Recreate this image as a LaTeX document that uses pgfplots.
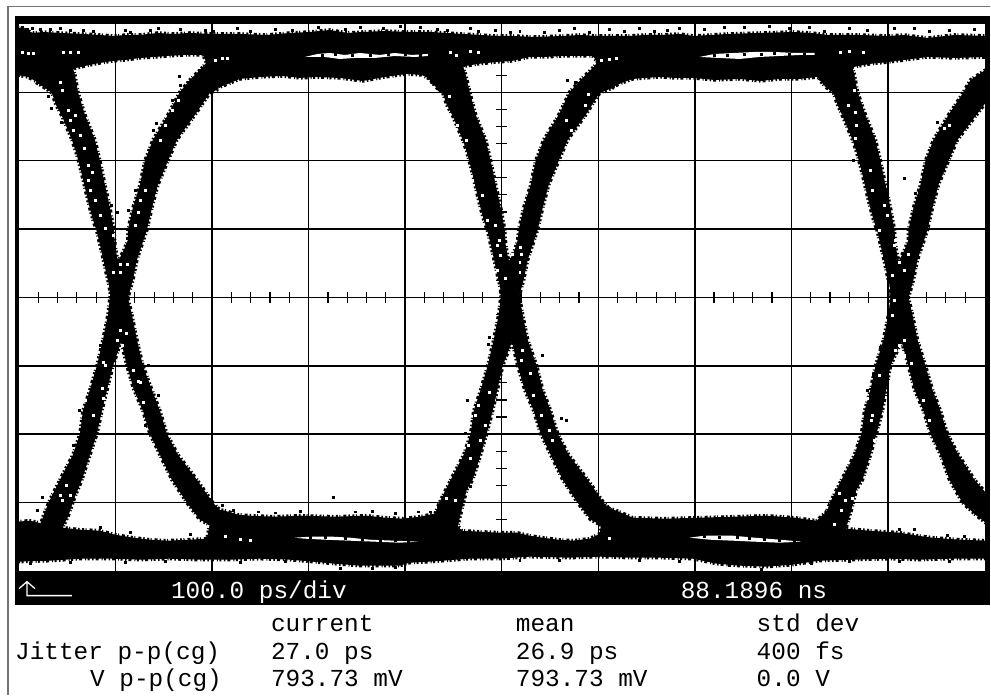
\documentclass[border=0pt]{standalone}
\usepackage{fontspec}
\setmainfont{Liberation Mono}
\usepackage{pgfplots}
\pgfplotsset{compat=1.18}
\pgfplotsset{
  % dashed outline gives the bands the rough edge of a persistence display
  band/.style={fill=black,draw=black,line width=3.5bp,dash pattern=on 2bp off 1.5bp on 1bp off 3bp on 3bp off 2bp on 1.5bp off 2.5bp,forget plot},
  gap/.style={fill=white,draw=none,forget plot},
  speckb/.style={only marks,mark=square*,mark size=1bp,mark options={black,draw=none,fill=black},forget plot},
  speckw/.style={only marks,mark=square*,mark size=1bp,mark options={white,draw=none,fill=white},forget plot},
}
% all coordinates are screen pixels: 96.6 px = 100 ps, 68.4 px = one vertical div
\newcommand{\scopetxt}[3]{\node[anchor=base west,inner sep=0pt,#3] at (#1) {\fontsize{24.4bp}{26bp}\selectfont #2};}
\begin{document}
\begin{tikzpicture}
\begin{scope}[shift={(-19bp,571bp)},x=1bp,y=-1bp]
  \fill[white] (0,0) rectangle (991,695);
  \draw[black!55,line width=1.2bp] (8,695) -- (8,6.5) -- (991,6.5);
  \fill[black] (15.5,16) rectangle (991,605);
  % arrow in the status bar
  \draw[white,line width=1.3bp] (19,589) -- (27,582) -- (35,589) (27,582) -- (27,596) -- (72,596);
  \scopetxt{171,599}{100.0 ps/div}{white}
  \scopetxt{681,599}{88.1896 ns}{white}
  \scopetxt{271,632}{current}{}
  \scopetxt{516,632}{mean}{}
  \scopetxt{757,632}{std dev}{}
  \scopetxt{15,660}{Jitter p-p(cg)}{}
  \scopetxt{271,660}{27.0 ps}{}
  \scopetxt{516,660}{26.9 ps}{}
  \scopetxt{757,660}{400 fs}{}
  \scopetxt{90,687}{V p-p(cg)}{}
  \scopetxt{271,687}{793.73 mV}{}
  \scopetxt{516,687}{793.73 mV}{}
  \scopetxt{757,687}{0.0 V}{}
\end{scope}
\path[use as bounding box] (-19bp,-124bp) rectangle (972bp,571bp);
\begin{axis}[
    at={(0,0)}, anchor=south west,
    scale only axis, width=966.6bp, height=547bp,
    xmin=19, xmax=985.6, ymin=24, ymax=571, y dir=reverse,
    xtick={115.6,212.2,308.8,405.4,502,598.6,695.2,791.8,888.4},
    ytick={92.4,160.8,229.2,297.6,366,434.4,502.8},
    xticklabel=\empty, yticklabel=\empty,
    major tick length=0pt,
    grid=major,
    grid style={black,line width=1.5bp},
    axis line style={draw=none},
    axis background/.style={fill=white},
]
% small division ticks on the centre lines
\addplot[only marks,mark=|,mark size=5.5bp,mark options={black,line width=1.2bp},forget plot] coordinates {
(38.3,297.6)(57.6,297.6)(76.9,297.6)(96.3,297.6)(134.9,297.6)(154.2,297.6)(173.6,297.6)(192.9,297.6)
(231.5,297.6)(250.8,297.6)(270.2,297.6)(289.5,297.6)(328.1,297.6)(347.4,297.6)(366.8,297.6)(386.1,297.6)
(424.7,297.6)(444,297.6)(463.4,297.6)(482.7,297.6)(521.3,297.6)(540.6,297.6)(560,297.6)(579.3,297.6)
(617.9,297.6)(637.2,297.6)(656.6,297.6)(675.9,297.6)(714.5,297.6)(733.8,297.6)(753.2,297.6)(772.5,297.6)
(811.1,297.6)(830.4,297.6)(849.8,297.6)(869.1,297.6)(907.7,297.6)(927,297.6)(946.4,297.6)(965.7,297.6)};
\addplot[only marks,mark=-,mark size=5.5bp,mark options={black,line width=1.2bp},forget plot] coordinates {
(502,75.3)(502,109.5)(502,126.6)(502,143.7)(502,177.9)(502,195)(502,212.1)(502,246.3)(502,263.4)(502,280.5)
(502,314.7)(502,331.8)(502,348.9)(502,383.1)(502,400.2)(502,417.3)(502,451.5)(502,468.6)(502,485.7)
(502,519.9)(502,537)(502,554.1)};
% upper rail with the overshoot shelves
\addplot[band] coordinates {
(17,27)(26,30)(33,33)(43,32)(60,33)(83,34)(100,35)(113,36)(127,35)(140,35)(158,33)(173,34)(190,33)(213,34)(240,34)
(267,35)(290,33)(310,32)(330,30)(348,33)(363,32)(385,31)(407,32)(430,32)(463,34)(480,35)(497,36)(513,36)(535,37)
(563,36)(580,35)(597,36)(630,36)(645,35)(661,35)(680,34)(694,36)(728,34)(760,33)(794,32)(812,33)(828,35)(860,35)
(888,36)(905,35)(928,38)(955,35)(988,36)
(988,57)(955,58)(928,57)(905,60)(889,62)(870,64)(849,68)(831,86)(818,77)(800,79)(780,79)(761,81)(740,79)(715,80)(694,78)
(675,78)(661,77)(645,78)(633,79)(622,83)(613,87)(597,61)(593,56)(563,56)(545,57)(530,57)(512,61)(497,62)(478,64)
(460,67)(440,90)(430,79)(422,75)(407,74)(385,77)(363,81)(340,78)(317,77)(300,78)(283,76)(260,77)(240,79)(228,84)(217,88)
(205,59)(203,55)(185,55)(167,56)(155,57)(140,58)(125,60)(113,61)(100,63)(85,66)(72,69)(50,91)(45,87)(37,82)(28,77)(17,75)};
% lower rail with the undershoot shelves
\addplot[band] coordinates {
(17,522)(30,521)(43,524)(63,528)(80,530)(100,531)(115,535)(133,538)(150,540)(167,541)(190,540)(207,539)(213,509)(225,511)
(238,515)(250,516)(275,517)(300,516)(335,517)(367,516)(385,518)(403,519)(420,517)(440,513)(458,526)(462,531)(480,532)
(500,533)(517,533)(530,536)(543,538)(558,540)(573,541)(590,539)(600,534)(604,507)(617,511)(633,518)(665,519)(700,518)
(735,517)(767,516)(795,518)(817,521)(828,511)(847,529)(870,531)(900,533)(918,536)(933,538)(960,540)(988,541)
(988,559)(950,559)(920,560)(890,559)(855,560)(820,561)(793,565)(767,567)(740,566)(717,564)(693,559)(660,558)(630,558)
(600,557)(570,558)(530,557)(500,559)(470,559)(430,562)(410,563)(400,566)(360,566)(335,564)(313,562)(290,560)(260,559)
(230,560)(200,560)(170,559)(140,560)(113,559)(80,559)(50,561)(17,562)};
% falling edges
\addplot[band] coordinates {
(32,50)(37,83)(45,88)(52,93)(56,105)(62,116)(67,128)(72,140)(76,152)(79,163)(82,175)(85,188)(89,205)(93,220)(97,232)(100,245)
(103,258)(106,272)(109,285)(111,298)(114,312)(118,330)(122,345)(127,366)(134,390)(143,411)(150,434)(160,455)(172,480)(187,503)
(200,520)(213,527)(230,545)(240,530)(213,503)(197,480)(178,455)(167,434)(160,411)(152,390)(143,366)(137,340)(132,315)(128,298)
(124,280)(118,262)(115,245)(114,230)(110,208)(105,185)(100,161)(95,140)(85,115)(78,92)(75,75)(72,65)(65,45)};
\addplot[band] coordinates {
(423,50)(430,80)(436,87)(443,93)(447,105)(453,116)(458,128)(463,140)(467,152)(470,163)(473,175)(476,188)(480,205)(484,220)(488,232)(491,245)
(494,258)(497,272)(500,285)(502,298)(505,312)(509,330)(513,345)(518,366)(525,390)(534,411)(541,434)(551,455)(563,480)(578,503)
(591,520)(604,527)(621,545)(631,530)(604,503)(588,480)(569,455)(558,434)(551,411)(543,390)(537,366)(528,340)(523,315)(520,298)
(515,280)(509,262)(506,245)(505,230)(501,208)(496,185)(491,161)(486,140)(476,115)(470,92)(466,75)(463,65)(456,45)};
\addplot[band] coordinates {
(813,50)(820,80)(826,87)(834,93)(838,105)(843,116)(848,128)(853,140)(857,152)(860,163)(863,175)(866,188)(870,205)(874,220)(878,232)(881,245)
(884,258)(887,272)(890,285)(892,298)(895,312)(899,330)(903,345)(909,366)(915,390)(924,411)(931,434)(941,455)(950,480)(963,503)
(976,515)(995,530)(995,503)(975,480)(959,455)(948,434)(941,411)(933,390)(926,366)(918,340)(913,315)(909,298)
(905,280)(899,262)(896,245)(895,230)(891,208)(886,185)(881,161)(876,140)(866,115)(858,92)(855,75)(852,65)(845,45)};
% rising edges
\addplot[band] coordinates {
(35,545)(38,535)(43,517)(50,500)(60,480)(73,455)(80,434)(83,411)(90,390)(97,366)(103,340)(108,315)(110,298)(112,280)(118,262)(124,250)
(128,240)(128,230)(133,208)(140,185)(145,161)(153,140)(168,115)(180,92)(190,80)(203,67)(210,58)(220,48)(232,56)(217,90)(210,93)
(195,115)(177,140)(168,161)(158,185)(152,208)(147,230)(142,245)(137,260)(133,280)(128,298)(122,315)(122,340)(113,366)(102,411)
(97,434)(90,455)(82,480)(75,497)(68,517)(63,527)(60,545)};
\addplot[band] coordinates {
(425,545)(428,535)(434,517)(441,500)(451,480)(464,455)(471,434)(474,411)(481,390)(488,366)(494,340)(499,315)(501,298)(503,280)(509,262)(515,250)
(518,240)(519,230)(524,208)(531,185)(536,161)(544,140)(559,115)(570,92)(581,80)(594,67)(601,58)(611,48)(623,56)(613,88)(600,93)
(586,115)(568,140)(559,161)(549,185)(543,208)(538,230)(533,245)(528,260)(524,280)(519,298)(513,315)(513,340)(503,366)(493,411)
(487,434)(481,455)(473,480)(467,490)(462,510)(458,527)(455,545)};
\addplot[band] coordinates {
(816,545)(819,535)(825,517)(832,500)(842,480)(855,455)(862,434)(865,411)(871,390)(876,366)(884,340)(889,315)(891,298)(893,280)(899,262)(905,250)
(909,240)(909,230)(914,208)(921,185)(926,161)(934,140)(949,115)(961,97)(971,80)(986,70)(995,60)(995,105)(986,103)
(977,115)(958,140)(949,161)(939,185)(933,208)(928,230)(923,245)(918,260)(914,280)(909,298)(903,315)(903,340)(891,366)(883,411)
(877,434)(871,455)(863,480)(857,490)(852,510)(847,527)(844,545)};
% white gaps between rail and shelf
\addplot[gap] coordinates {
(305,57)(318,54)(330,53)(345,55)(360,53)(380,55)(395,53)(412,55)(428,54)(428,56)(415,57)(395,56)(375,58)(355,58)(340,59)(325,57)};
\addplot[gap] coordinates {
(700,57)(715,54)(735,53)(755,52)(775,52)(795,53)(815,53)(815,55)(800,55)(780,56)(760,57)(740,59)(720,58)};
\addplot[gap] coordinates {
(295,538)(310,537)(333,537)(350,538)(370,540)(395,541)(418,542)(400,543)(375,542)(350,541)(325,540)(305,539)};
\addplot[gap] coordinates {
(690,538)(705,536)(733,536)(755,538)(780,540)(802,542)(780,543)(755,542)(733,541)(710,540)};
% stray dots, black ones outside the bands
\addplot[speckb] coordinates {
(22,27)(27,29)(32,28)(40,29)(50,29)(60,28)(70,30)(83,30)(93,31)(125,30)(130,32)(150,30)(158,28)(180,29)(205,30)(213,31)
(237,28)(250,31)(275,29)(292,30)(318,27)(345,29)(360,27)(383,28)(400,26)(420,27)(437,29)(447,30)(470,28)(478,31)(495,30)
(510,32)(520,31)(545,32)(560,30)(575,28)(590,32)(610,29)(625,31)(640,28)(655,31)(668,30)(680,28)(705,29)(725,27)(745,27)
(770,26)(790,28)(810,27)(825,31)(850,28)(868,30)(895,28)(915,28)(930,31)(950,30)(975,29)
(30,564)(70,563)(125,563)(165,562)(240,563)(285,562)(340,569)(372,569)(395,568)(520,561)(560,561)(640,561)(680,562)(730,566)
(762,570)(812,564)(850,562)(900,562)(950,562)
(48,96)(51,108)(61,122)(91,152)(111,205)(117,212)(128,210)(135,190)(153,130)(156,123)(172,100)
(180,85)(188,82)(179,76)(199,70)(217,63)(226,58)
(79,410)(73,445)(158,395)(148,365)(100,345)(145,425)
(42,497)(37,510)(48,512)(66,470)(180,470)(100,528)(130,533)(190,535)(222,505)(233,510)(258,512)(275,513)
(300,511)(333,497)(355,512)(372,511)(395,514)(418,512)(430,512)(438,507)(470,486)
(574,125)(570,112)(555,140)(568,80)(576,82)(498,350)(488,344)(489,337)
(475,450)(467,400)(465,433)(543,355)(562,418)(567,420)
(868,390)(874,375)(881,347)(873,405)(868,410)
(905,178)(916,193)(893,242)(943,128)(938,122)(952,150)(858,132)(856,115)(854,160)(876,205)(888,190)
(900,530)(915,530)(948,536)(965,537)
(335,54)(352,55)(370,55)(388,54)(405,54)(420,55)(322,55)
(715,55)(728,55)(745,54)(762,54)(775,53)(790,54)(805,54)
(310,538)(325,538)(345,539)(362,540)(380,541)(395,541)(408,542)
(705,537)(720,538)(738,538)(750,539)(765,540)(780,541)(795,542)};
\addplot[speckw] coordinates {
(22,52)(28,53)(33,53)(63,52)(70,52)(78,52)(215,60)(222,58)(227,58)(450,52)(470,51)(478,52)(456,55)(841,52)(864,52)(850,51)
(602,60)(610,59)(617,58)(240,540)(250,541)(610,539)(225,537)
(62,90)(60,82)(68,110)(75,115)(70,120)(73,130)(80,135)(84,148)(88,165)(92,172)(88,180)(90,190)(95,200)(100,215)(105,228)
(135,225)(140,200)(145,190)(138,212)(160,140)(165,125)(172,110)(178,100)
(113,235)(120,264)(127,264)(120,272)(113,272)(120,330)(126,333)(122,345)(117,340)(133,370)(138,381)(143,402)(140,382)(105,365)(103,362)
(102,388)(103,398)(93,415)(85,400)(146,440)(150,442)(40,507)(66,485)(57,470)(62,500)
(449,96)(457,125)(466,140)(463,150)(472,180)(482,195)(487,220)(495,225)(499,240)(497,245)(586,105)(589,94)(567,120)(572,130)
(500,255)(512,254)(522,254)(521,247)(520,262)(520,272)(505,278)(497,270)(523,350)(522,360)(531,373)(534,395)
(478,405)(489,392)(485,425)(480,440)(475,415)(468,445)(470,458)(542,415)(550,430)(553,440)
(855,90)(849,105)(856,112)(857,125)(856,138)(871,170)(873,190)(885,205)(880,230)(888,215)(896,240)(950,125)(945,128)
(895,245)(900,262)(909,254)(902,242)(905,270)(893,275)(895,300)(893,315)(900,345)(896,350)(905,340)(905,355)(912,363)(913,395)(924,400)
(923,415)(930,420)(930,450)(875,440)(873,415)(880,375)(868,398)(872,420)
(60,495)(70,495)(446,498)(455,500)(463,510)(842,510)(835,525)(857,507)(846,500)(840,493)(853,498)};
\end{axis}
\end{tikzpicture}
\end{document}
